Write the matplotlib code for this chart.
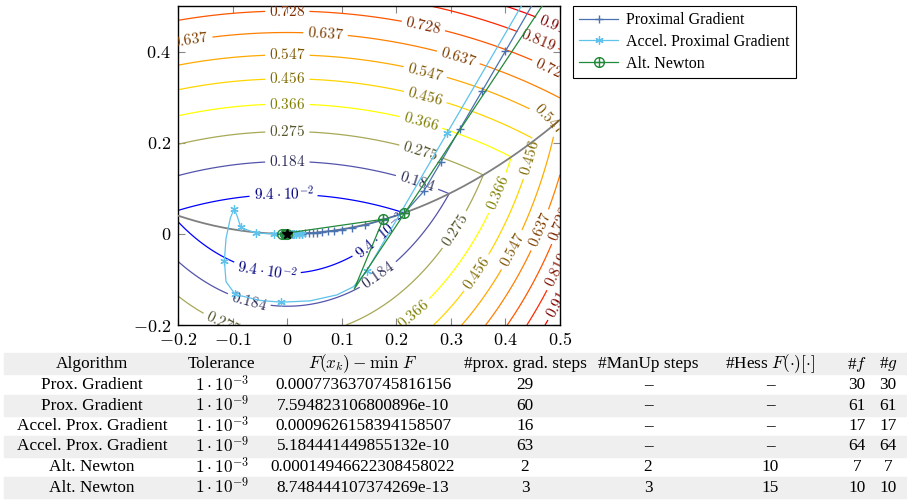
import numpy as np
import matplotlib
matplotlib.use('Agg')
import matplotlib.pyplot as plt
from matplotlib.colors import LinearSegmentedColormap, Normalize
from matplotlib.path import Path
from matplotlib.patches import Rectangle
from matplotlib.ticker import FuncFormatter, FixedLocator

plt.rcParams['mathtext.fontset'] = 'cm'
plt.rcParams['font.family'] = ['Liberation Serif', 'DejaVu Serif']


# composite objective F = f + g, g is nonsmooth across the parabola y = x^2
def objective(x, y):
    return 2 * x**2 + y**2 + np.abs(y - x**2)


def manifold(x):
    return x**2


levels = [0.094, 0.184, 0.275, 0.366, 0.456, 0.547, 0.637, 0.728, 0.819, 0.91]

# where the level values are written on the contours
label_pos = {
    0.094: [(-0.007, 0.081), (0.176, -0.013), (-0.037, -0.084)],
    0.184: [(0.0, 0.158), (0.238, 0.114), (0.167, -0.09), (-0.071, -0.152)],
    0.275: [(0.0, 0.224), (0.244, 0.18), (0.299, 0.015), (-0.117, -0.196)],
    0.366: [(0.0, 0.283), (0.244, 0.24), (0.385, 0.09), (0.225, -0.167)],
    0.456: [(0.0, 0.338), (0.253, 0.299), (0.445, 0.167), (0.348, -0.086)],
    0.547: [(0.0, 0.39), (0.253, 0.356), (0.482, 0.255), (0.412, -0.035)],
    0.637: [(-0.178, 0.428), (0.07, 0.44), (0.313, 0.384), (0.45, 0.015)],
    0.728: [(0.0, 0.488), (0.249, 0.455), (0.488, 0.367), (0.494, 0.037)],
    0.819: [(0.458, 0.422), (0.494, -0.08)],
    0.91: [(0.488, 0.464), (0.49, -0.152)],
}

# iterates of the three solvers
pg_x = [0.545, 0.400, 0.357, 0.316, 0.282, 0.250, 0.215, 0.175, 0.143, 0.1185, 0.100,
        0.086, 0.074, 0.0635, 0.054, 0.047, 0.040, 0.033, 0.027, 0.021, 0.0165,
        0.0116, 0.008, 0.005, 0.003, 0.0]
pg_y = [0.700, 0.401, 0.313, 0.229, 0.158, 0.093, 0.046, 0.031, 0.019, 0.013, 0.0095,
        0.007, 0.0053, 0.004, 0.0028, 0.0021, 0.0016, 0.0011, 0.0007, 0.0004, 0.0003,
        0.0001, 0.0001, 0.0, 0.0, 0.0]

apg_x = [0.540, 0.293, 0.146, 0.1215, 0.091, 0.042, -0.011, -0.05, -0.095, -0.112,
         -0.115, -0.112, -0.104, -0.097, -0.091, -0.085, -0.057, -0.025, -0.008,
         0.003, 0.010, 0.016, 0.022, 0.028, 0.012, 0.004, 0.0]
apg_y = [0.727, 0.221, -0.081, -0.116, -0.134, -0.147, -0.150, -0.146, -0.133, -0.105,
         -0.059, -0.010, 0.035, 0.055, 0.037, 0.014, 0.0015, 0.0, 0.0,
         0.0, 0.0001, 0.0002, 0.0004, 0.0007, 0.0001, 0.0, 0.0]
apg_marks = [0, 1, 2, 6, 8, 10, 13, 15, 16, 17, 18, 19, 20, 21, 22, 23, 24, 25, 26]

an_x = [0.520, 0.215, 0.123, 0.176, -0.010, -0.004, 0.0]
an_y = [0.595, 0.045, -0.121, 0.032, 0.0001, 0.0, 0.0]
an_marks = [0, 1, 3, 4, 5, 6]

x_ticks = [-0.2, -0.1, 0, 0.1, 0.2, 0.3, 0.4, 0.5]
y_ticks = [-0.2, 0, 0.2, 0.4]

# results table
col_heads = ['Algorithm', 'Tolerance', r'$F(x_k) - \min\ F$', '#prox. grad. steps',
             '#ManUp steps', r'#Hess $F(\cdot)[\cdot]$', r'#$f$', r'#$g$']
algorithms = ['Prox. Gradient', 'Prox. Gradient', 'Accel. Prox. Gradient',
              'Accel. Prox. Gradient', 'Alt. Newton', 'Alt. Newton']
tol_exp = [-3, -9, -3, -9, -3, -9]
gaps = ['0.0007736370745816156', '7.594823106800896e-10', '0.0009626158394158507',
        '5.184441449855132e-10', '0.00014946622308458022', '8.748444107374269e-13']
prox_steps = [29, 60, 16, 63, 2, 3]
manup_steps = [None, None, None, None, 2, 3]
hess_evals = [None, None, None, None, 10, 15]
f_evals = [30, 61, 17, 64, 7, 10]
g_evals = [30, 61, 17, 64, 7, 10]

W, H = 907, 500
fig = plt.figure(figsize=(W / 100, H / 100), dpi=100)
ax = fig.add_axes([178 / W, 1 - 325 / H, 382 / W, 319 / H])

gx = np.linspace(-0.2, 0.5, 801)
gy = np.linspace(-0.2, 0.5, 801)
X, Y = np.meshgrid(gx, gy)
Z = objective(X, Y)

cmap = LinearSegmentedColormap.from_list('hot', ['#0000ff', '#ffff00', '#ff8000', '#ff0000'])
norm = Normalize(levels[0], levels[-1])
cs = ax.contour(X, Y, Z, levels=levels, cmap=cmap, norm=norm, linewidths=0.9)

ax.set_xlim(-0.2, 0.5)
ax.set_ylim(-0.2, 0.5)


def level_label(v):
    if v < 0.1:
        e = int(np.floor(np.log10(v)))
        return r'$%.1f\cdot10^{%d}$' % (v / 10**e, e)
    return r'$%g$' % v


# snap every label position onto its own contour so clabel picks the right level
manual = []
for i, lev in enumerate(levels):
    segs = [s for s in cs.allsegs[i] if len(s)]
    verts = np.vstack(segs)
    for px, py in label_pos[lev]:
        d = (verts[:, 0] - px)**2 + ((verts[:, 1] - py) * 0.84)**2
        manual.append(tuple(verts[np.argmin(d)]))

label_colors = []
for lev in levels:
    c = cmap(norm(lev))
    label_colors.append((0.5 * c[0], 0.5 * c[1], 0.5 * c[2]))
ax.clabel(cs, manual=manual, inline=True, inline_spacing=4, fontsize=11,
          colors=label_colors, fmt=level_label)
for t in cs.labelTexts:
    t.set_clip_on(True)

mx = np.linspace(-0.2, 0.5, 300)
ax.plot(mx, manifold(mx), color='#7f7f7f', lw=1.3, zorder=3)

oplus = Path.make_compound_path(
    Path.unit_circle(),
    Path([(-1, 0), (1, 0), (0, -1), (0, 1)],
         [Path.MOVETO, Path.LINETO, Path.MOVETO, Path.LINETO]))

ax.plot(pg_x, pg_y, color='#4a72b0', lw=0.9, marker='+', ms=6, mew=1.0,
        label='Proximal Gradient', zorder=4)
ax.plot(apg_x, apg_y, color='#5ec2ec', lw=0.9, marker=(6, 2, 0), ms=6, mew=0.9,
        markevery=apg_marks, label='Accel. Proximal Gradient', zorder=5)
ax.plot(an_x, an_y, color='#23893a', lw=0.9, marker=oplus, ms=7, mew=1.0, mfc='none',
        markevery=an_marks, label='Alt. Newton', zorder=6)
ax.plot([0], [0], marker='*', color='black', ms=7, zorder=7)

ax.set_xlim(-0.2, 0.5)
ax.set_ylim(-0.2, 0.5)
ax.xaxis.set_major_locator(FixedLocator(x_ticks))
ax.yaxis.set_major_locator(FixedLocator(y_ticks))
tick_fmt = FuncFormatter(lambda v, p: r'$%g$' % round(v, 3))
ax.xaxis.set_major_formatter(tick_fmt)
ax.yaxis.set_major_formatter(tick_fmt)
ax.tick_params(direction='in', top=True, right=True, length=5, width=0.8,
               color='#888888', labelsize=13, pad=5)
for s in ax.spines.values():
    s.set_linewidth(1.0)

leg = ax.legend(loc='upper left', bbox_to_anchor=(573 / W, 1 - 6 / H),
                bbox_transform=fig.transFigure, borderaxespad=0, fontsize=11.5,
                frameon=True, fancybox=False, framealpha=1, edgecolor='black',
                handlelength=2.4, handletextpad=0.5, borderpad=0.4, labelspacing=0.35)
leg.get_frame().set_linewidth(0.8)

# table below the plot
col_x = [92, 222, 363, 525, 648, 770, 857, 888]
head_y = 364
row_y = [385 + 20.5 * k for k in range(6)]
band = '#efefef'
fig.patches.append(Rectangle((4 / W, 1 - 374 / H), 902 / W, 21 / H,
                             transform=fig.transFigure, color=band, zorder=0))
for k in (1, 3, 5):
    fig.patches.append(Rectangle((4 / W, 1 - (row_y[k] + 10.5) / H), 902 / W, 21 / H,
                                 transform=fig.transFigure, color=band, zorder=0))

fs = 12.4
for cx, head in zip(col_x, col_heads):
    fig.text(cx / W, 1 - head_y / H, head, ha='center', va='center', fontsize=fs)


def cell(v):
    return '–' if v is None else str(v)


for k, ry in enumerate(row_y):
    vals = [algorithms[k], r'$1\cdot10^{%d}$' % tol_exp[k], gaps[k], cell(prox_steps[k]),
            cell(manup_steps[k]), cell(hess_evals[k]), cell(f_evals[k]), cell(g_evals[k])]
    for cx, v in zip(col_x, vals):
        fig.text(cx / W, 1 - ry / H, v, ha='center', va='center', fontsize=fs)

fig.savefig('out.png', dpi=100)
